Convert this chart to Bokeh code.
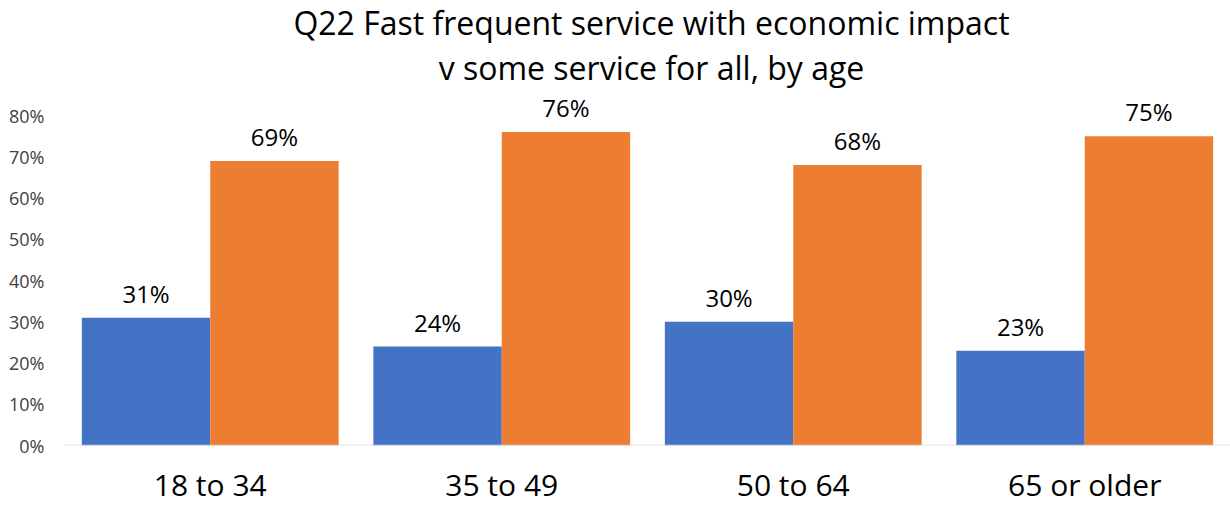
from bokeh.plotting import figure
from bokeh.models import (ColumnDataSource, FactorRange, Range1d, FixedTicker,
                          NumeralTickFormatter, Span, Label)
from bokeh.core.properties import value
from bokeh.transform import dodge
from bokeh.embed import file_html
from bokeh.resources import INLINE

categories = ["18 to 34", "35 to 49", "50 to 64", "65 or older"]
fast_frequent = [0.31, 0.24, 0.30, 0.23]
some_for_all = [0.69, 0.76, 0.68, 0.75]
y_ticks = [0.0, 0.1, 0.2, 0.3, 0.4, 0.5, 0.6, 0.7, 0.8]
title_lines = ["Q22 Fast frequent service with economic impact",
               "v some service for all, by age"]

FONT = "Open Sans"
BLUE = "#4472C4"
ORANGE = "#ED7D31"

src = ColumnDataSource(dict(
    cat=categories,
    a=fast_frequent,
    b=some_for_all,
    a_lbl=[f"{round(v*100)}%" for v in fast_frequent],
    b_lbl=[f"{round(v*100)}%" for v in some_for_all],
))

px_per_unit = 412.5
frame_h = 445
p = figure(width=1230, height=507, x_range=FactorRange(*categories),
           y_range=Range1d(0, frame_h / px_per_unit),
           output_backend="svg", toolbar_location=None,
           min_border_left=64, min_border_right=0, min_border_top=0,
           min_border_bottom=62)
p.outline_line_color = None
p.xgrid.grid_line_color = None
p.ygrid.grid_line_color = None

bw = 0.4405
p.vbar(x=dodge("cat", -bw / 2, range=p.x_range), top="a", width=bw,
       source=src, fill_color=BLUE, line_color=None)
p.vbar(x=dodge("cat", bw / 2, range=p.x_range), top="b", width=bw,
       source=src, fill_color=ORANGE, line_color=None)

for col, lbl, off in (("a", "a_lbl", -bw / 2), ("b", "b_lbl", bw / 2)):
    p.text(x=dodge("cat", off, range=p.x_range), y=col, text=lbl,
           source=src, text_align="center", text_baseline="bottom",
           y_offset=-8, text_font=value(FONT), text_font_size="24px",
           text_color="#000000")

p.add_layout(Span(location=0, dimension="width", line_color="#D9D9D9",
                  line_width=1.5))

# y axis
ya = p.yaxis[0]
ya.ticker = FixedTicker(ticks=y_ticks)
ya.formatter = NumeralTickFormatter(format="0%")
ya.axis_line_color = None
ya.major_tick_line_color = None
ya.minor_tick_line_color = None
ya.major_label_standoff = 14
ya.major_label_text_font = FONT
ya.major_label_text_font_size = "18px"
ya.major_label_text_color = "#404040"

xa = p.xaxis[0]
xa.axis_line_color = None
xa.major_tick_line_color = None
xa.minor_tick_line_color = None
xa.major_label_standoff = 12
xa.major_label_text_font = FONT
xa.major_label_text_font_size = "30px"
xa.major_label_text_color = "#000000"

for line, ypx in zip(title_lines, [22, 67]):
    p.add_layout(Label(x=2.0137, y=(frame_h - ypx) / px_per_unit,
                       text=line, text_align="center", text_baseline="middle",
                       text_font=FONT, text_font_size="32px",
                       text_color="#000000"))

open("out.html", "w").write(file_html(p, INLINE))
